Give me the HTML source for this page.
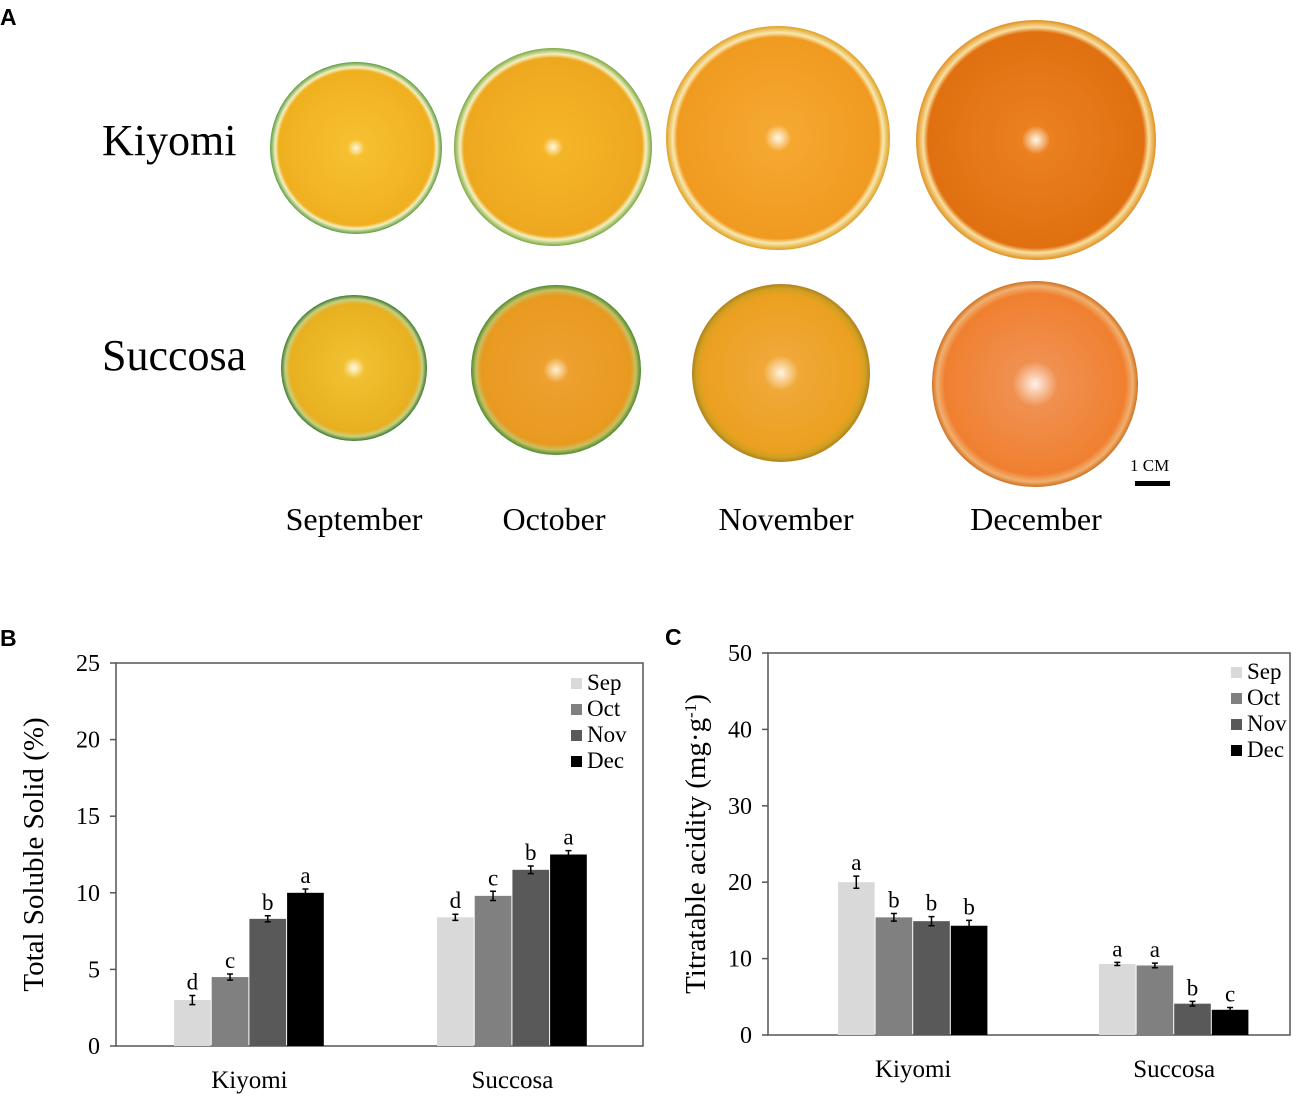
<!DOCTYPE html>
<html><head><meta charset="utf-8"><style>
body{margin:0;background:#fff}
svg text{font-family:"Liberation Serif",serif}
svg text.pl{font-family:"Liberation Sans",sans-serif;font-weight:bold}
</style></head><body>
<svg id="fig" width="1309" height="1104" viewBox="0 0 1309 1104" xmlns="http://www.w3.org/2000/svg">
<defs>
<radialGradient id="kSep"><stop offset="0" stop-color="#fff8e0"/><stop offset="0.1" stop-color="#f6c030"/><stop offset="0.9" stop-color="#f0b020"/><stop offset="0.94" stop-color="#f4f0c0"/><stop offset="1" stop-color="#5a9a40"/></radialGradient>
<radialGradient id="kOct"><stop offset="0" stop-color="#fff8e0"/><stop offset="0.1" stop-color="#f5b528"/><stop offset="0.9" stop-color="#eea820"/><stop offset="0.94" stop-color="#f4f0c0"/><stop offset="1" stop-color="#7aa840"/></radialGradient>
<radialGradient id="kNov"><stop offset="0" stop-color="#fff8e8"/><stop offset="0.12" stop-color="#f5a830"/><stop offset="0.9" stop-color="#f09a20"/><stop offset="0.94" stop-color="#f8e8b0"/><stop offset="1" stop-color="#e0a020"/></radialGradient>
<radialGradient id="kDec"><stop offset="0" stop-color="#fff8e8"/><stop offset="0.12" stop-color="#ea8020"/><stop offset="0.9" stop-color="#e07010"/><stop offset="0.94" stop-color="#f8e0a0"/><stop offset="1" stop-color="#e09020"/></radialGradient>
<radialGradient id="sSep"><stop offset="0" stop-color="#fff8e0"/><stop offset="0.15" stop-color="#f0c030"/><stop offset="0.88" stop-color="#e8b020"/><stop offset="0.94" stop-color="#c8d080"/><stop offset="1" stop-color="#3a7a30"/></radialGradient>
<radialGradient id="sOct"><stop offset="0" stop-color="#fff0d0"/><stop offset="0.15" stop-color="#eea030"/><stop offset="0.88" stop-color="#e89a20"/><stop offset="0.94" stop-color="#c8c060"/><stop offset="1" stop-color="#4a8a30"/></radialGradient>
<radialGradient id="sNov"><stop offset="0" stop-color="#fff4e0"/><stop offset="0.2" stop-color="#f0a838"/><stop offset="0.88" stop-color="#eca020"/><stop offset="0.95" stop-color="#d0a020"/><stop offset="1" stop-color="#b08020"/></radialGradient>
<radialGradient id="sDec"><stop offset="0" stop-color="#fff0e8"/><stop offset="0.22" stop-color="#f09050"/><stop offset="0.88" stop-color="#f08030"/><stop offset="0.95" stop-color="#f0b070"/><stop offset="1" stop-color="#d07020"/></radialGradient>
</defs>
<text class="pl" x="0" y="25" font-size="23">A</text>
<text x="102" y="155" font-size="44">Kiyomi</text>
<text x="102" y="370" font-size="44">Succosa</text>
<circle cx="356" cy="148" r="86" fill="url(#kSep)"/>
<circle cx="553" cy="147" r="99" fill="url(#kOct)"/>
<circle cx="778" cy="138" r="112" fill="url(#kNov)"/>
<circle cx="1036" cy="140" r="120" fill="url(#kDec)"/>
<circle cx="354" cy="368" r="73" fill="url(#sSep)"/>
<circle cx="556" cy="370" r="85" fill="url(#sOct)"/>
<circle cx="781" cy="373" r="89" fill="url(#sNov)"/>
<circle cx="1035" cy="384" r="103" fill="url(#sDec)"/>
<text x="1130" y="471" font-size="17">1 CM</text>
<rect x="1135" y="481" width="35" height="5" fill="#000"/>
<text x="354" y="530" font-size="32" text-anchor="middle">September</text>
<text x="554" y="530" font-size="32" text-anchor="middle">October</text>
<text x="786" y="530" font-size="32" text-anchor="middle">November</text>
<text x="1036" y="530" font-size="32" text-anchor="middle">December</text>
<text class="pl" x="0" y="646" font-size="23">B</text>
<text class="pl" x="665" y="645" font-size="23">C</text>
<g id="chartB"></g>
<g id="chartC"></g>
</svg>
<script>
const groups=["Kiyomi","Succosa"];
const months=["Sep","Oct","Nov","Dec"];
const colors=["#d9d9d9","#808080","#595959","#000000"];
const tssValues=[[3.0,4.5,8.3,10.0],[8.4,9.8,11.5,12.5]];
const tssErr=[[0.3,0.2,0.2,0.25],[0.2,0.3,0.25,0.25]];
const tssLetters=[["d","c","b","a"],["d","c","b","a"]];
const tssTicks=[0,5,10,15,20,25];
const taValues=[[20.0,15.4,14.9,14.3],[9.3,9.1,4.1,3.3]];
const taErr=[[0.8,0.5,0.6,0.7],[0.2,0.3,0.3,0.3]];
const taLetters=[["a","b","b","b"],["a","a","b","c"]];
const taTicks=[0,10,20,30,40,50];
const NS="http://www.w3.org/2000/svg";
function mk(p,t,a){const e=document.createElementNS(NS,t);for(const k in a)e.setAttribute(k,a[k]);p.appendChild(e);return e;}
function chart(g,cfg){
 const {x0,x1,y0,y1,max,ticks,vals,errs,letters,groupStarts,barW,legX,legY,title,titleX}=cfg;
 const ys=v=>y0-(v/max)*(y0-y1);
 const box=mk(g,"rect",{x:x0,y:y1,width:x1-x0,height:y0-y1,fill:"none",stroke:"#555","stroke-width":1.5});
 
 
 ticks.forEach(t=>{
  const l=mk(g,"line",{x1:x0-6,x2:x0,y1:ys(t),y2:ys(t),stroke:"#555","stroke-width":1.5});
  
  
  const tx=mk(g,"text",{x:x0-16,y:ys(t)+8,"font-size":24,"text-anchor":"end"});tx.textContent=t;
  
  
 });
 const yt=mk(g,"text",{x:0,y:0,"font-size":29,"text-anchor":"middle",transform:`translate(${titleX},${(y0+y1)/2}) rotate(-90)`});yt.innerHTML=title;
 
 
 groups.forEach((gn,gi)=>{
  const gs=groupStarts[gi];
  vals[gi].forEach((v,mi)=>{
   const x=gs+mi*barW;
   const b=mk(g,"rect",{x:x,y:ys(v),width:barW-1,height:y0-ys(v),fill:colors[mi]});
   
   
   const cx=x+(barW-1)/2,e=errs[gi][mi];
   const eb=mk(g,"path",{d:`M${cx},${ys(v+e)}V${ys(v-e)}M${cx-3},${ys(v+e)}H${cx+3}M${cx-3},${ys(v-e)}H${cx+3}`,stroke:"#000","stroke-width":1.5,fill:"none"});
   
   
   const lt=mk(g,"text",{x:cx,y:ys(v+e)-6,"font-size":23,"text-anchor":"middle"});lt.textContent=letters[gi][mi];
   
   
  });
  const gl=mk(g,"text",{x:gs+2*barW,y:y0+42,"font-size":25,"text-anchor":"middle"});gl.textContent=gn;
  
  
 });
 months.forEach((m,mi)=>{
  const r=mk(g,"rect",{x:legX,y:legY+mi*26-11,width:11,height:11,fill:colors[mi]});
  
  
  const t=mk(g,"text",{x:legX+16,y:legY+mi*26+1,"font-size":23});t.textContent=m;
  
  
 });
}
chart(document.getElementById("chartB"),{x0:116,x1:643,y0:1046,y1:663,max:25,ticks:tssTicks,vals:tssValues,errs:tssErr,letters:tssLetters,groupStarts:[174,437],barW:37.7,legX:571,legY:689,title:"Total Soluble Solid (%)",titleX:43});
chart(document.getElementById("chartC"),{x0:768,x1:1290,y0:1035,y1:653,max:50,ticks:taTicks,vals:taValues,errs:taErr,letters:taLetters,groupStarts:[838,1099],barW:37.6,legX:1231,legY:678,title:'Titratable acidity (mg·g<tspan baseline-shift="super" font-size="17">-1</tspan>)',titleX:705});
</script>
</body></html>
